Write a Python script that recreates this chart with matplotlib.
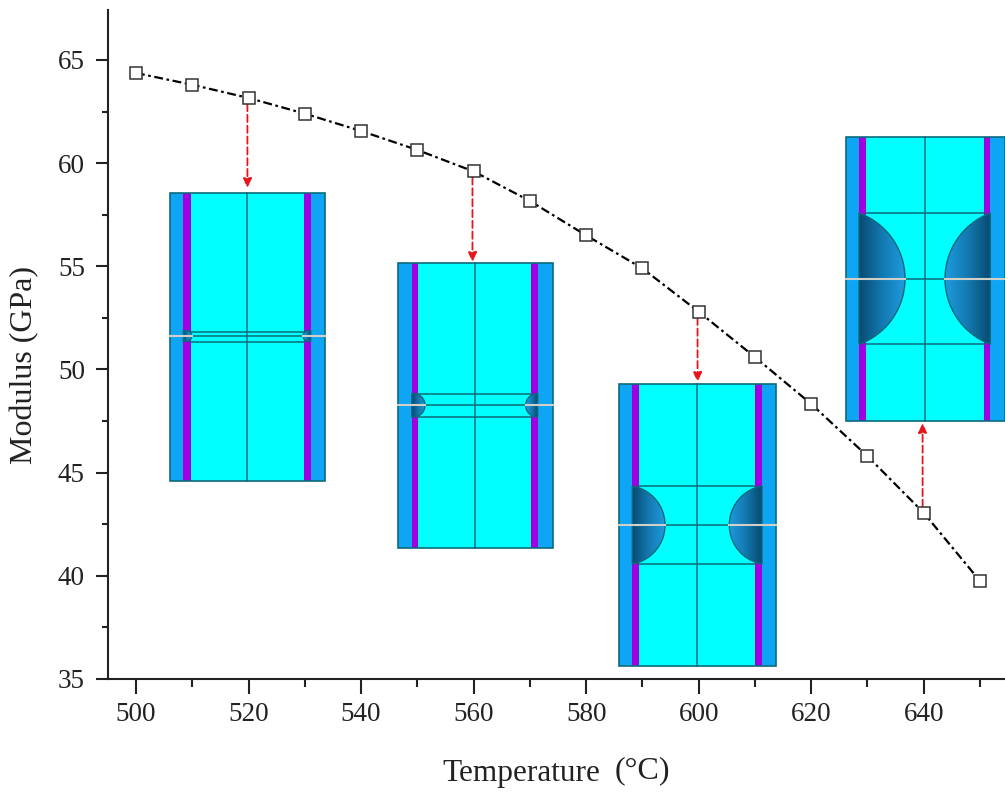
#!/usr/bin/env python3
# Modulus vs temperature with specimen cross-section insets
import numpy as np
import matplotlib
matplotlib.use("Agg")
import matplotlib.pyplot as plt
from matplotlib.patches import Rectangle, PathPatch
from matplotlib.path import Path

plt.rcParams['font.family'] = ['Liberation Serif', 'DejaVu Serif']

W, H = 1005, 794

temperature = [500, 510, 520, 530, 540, 550, 560, 570, 580, 590, 600, 610, 620, 630, 640, 650]
modulus = [64.37, 63.8, 63.16, 62.4, 61.56, 60.64, 59.6, 58.17, 56.5, 54.9, 52.8, 50.6, 48.33, 45.8, 43.05, 39.75]

x_ticks = [500, 520, 540, 560, 580, 600, 620, 640]
y_ticks = [35, 40, 45, 50, 55, 60, 65]

# arrows: from the point at this temperature to the inset edge
arrow_temps = [520, 560, 600, 640]

# colours
TEXT = '#222222'
OUTER = '#0ea5f5'
CORE = '#00ffff'
PURPLE = '#a000e0'
EDGE = '#0b6b7a'
CRACK = '#d0d0c8'

fig = plt.figure(figsize=(W / 100, H / 100), dpi=100)
fig.patch.set_facecolor('white')

# overlay in pixel coords for the insets, sits under the data axes
ax_px = fig.add_axes([0, 0, 1, 1], zorder=1)
ax_px.set_xlim(0, W)
ax_px.set_ylim(H, 0)
ax_px.axis('off')

# plot box in pixels
AX_L, AX_R, AX_T, AX_B = 108, 1005, 10, 679
ax = fig.add_axes([AX_L / W, 1 - AX_B / H, (AX_R - AX_L) / W, (AX_B - AX_T) / H], zorder=2)
ax.patch.set_alpha(0)

px_per_x = (980 - 136) / 150
px_per_y = (679 - 60) / 30
ax.set_xlim(500 - (136 - AX_L) / px_per_x, 500 + (AX_R - 136) / px_per_x)
ax.set_ylim(35, 35 + (AX_B - AX_T) / px_per_y)


def draw_void(x_wall, reach, y_mid, h, flip):
    # circular segment against the wall with a dark-to-light gradient
    d = abs(reach - x_wall)
    r = (h ** 2 + d ** 2) / (2 * d)
    sign = -1 if flip else 1
    cx = reach - sign * r
    a0 = np.arcsin(h / r)
    ang = np.linspace(-a0, a0, 60)
    xs = cx + sign * r * np.cos(ang)
    ys = y_mid + r * np.sin(ang)
    verts = [(x_wall, y_mid - h)] + list(zip(xs, ys)) + [(x_wall, y_mid + h), (x_wall, y_mid - h)]
    codes = [Path.MOVETO] + [Path.LINETO] * (len(verts) - 2) + [Path.CLOSEPOLY]
    path = Path(verts, codes)
    grad = np.linspace(0, 1, 64).reshape(1, -1)
    cmap = matplotlib.colors.LinearSegmentedColormap.from_list('void', ['#084a72', '#1379b0', '#1e9ade'])
    x0, x1 = min(x_wall, reach), max(x_wall, reach)
    im = ax_px.imshow(grad if not flip else grad[:, ::-1], extent=(x0, x1, y_mid + h, y_mid - h),
                      cmap=cmap, aspect='auto', zorder=3)
    patch = PathPatch(path, facecolor='none', edgecolor=EDGE, lw=1.0, zorder=4)
    ax_px.add_patch(patch)
    im.set_clip_path(patch)


def draw_specimen(left, right, top, bottom, p1, p2, p3, p4, centre, crack, line1, line2, reach1, reach2):
    ax_px.add_patch(Rectangle((left, top), right - left, bottom - top, fc=OUTER, ec='none', zorder=1))
    ax_px.add_patch(Rectangle((p2, top), p3 - p2, bottom - top, fc=CORE, ec='none', zorder=1))
    ax_px.add_patch(Rectangle((p1, top), p2 - p1, bottom - top, fc=PURPLE, ec='none', zorder=2))
    ax_px.add_patch(Rectangle((p3, top), p4 - p3, bottom - top, fc=PURPLE, ec='none', zorder=2))
    h = (line2 - line1) / 2
    draw_void(p1, reach1, crack, h, False)
    draw_void(p4, reach2, crack, h, True)
    ax_px.add_patch(Rectangle((left, top), right - left, bottom - top, fc='none', ec=EDGE, lw=1.2, zorder=5))
    ax_px.plot([centre, centre], [top, bottom], color=EDGE, lw=1.1, zorder=5)
    ax_px.plot([p2, p3], [line1, line1], color=EDGE, lw=1.1, zorder=5)
    ax_px.plot([p2, p3], [line2, line2], color=EDGE, lw=1.1, zorder=5)
    ax_px.plot([reach1, reach2], [crack, crack], color=EDGE, lw=1.1, zorder=5)
    ax_px.plot([left, reach1], [crack, crack], color=CRACK, lw=1.5, zorder=6)
    ax_px.plot([reach2, right], [crack, crack], color=CRACK, lw=1.5, zorder=6)


draw_specimen(170, 325, 193, 481, 183.3, 190.7, 304, 310.7, 247, 336, 331.5, 342, 191.7, 303)
draw_specimen(398.3, 552.7, 262.7, 548, 411.7, 418.3, 531, 537.7, 475, 405.3, 393.7, 417.3, 425, 525.7)
draw_specimen(619, 776, 384, 665.7, 632.3, 639, 755.3, 762, 697.3, 525, 485.7, 563.7, 665, 729.3)
draw_specimen(845.7, 1005, 136.7, 420.7, 859, 865.7, 983.7, 990.3, 924.7, 278.7, 213, 344.3, 905, 945)

# main curve
ax.plot(temperature, modulus, color='black', lw=1.6, linestyle=(0, (4, 1.6, 1.2, 1.6)),
        marker='s', ms=8, mfc='white', mec='#333333', mew=1.1, zorder=5)


def px_to_y(py):
    return 35 + (AX_B - py) / px_per_y


# red dashed arrows, start just off the marker, tip at the inset edge
arrow_tips = [188, 262, 382, 423]
for t, tip in zip(arrow_temps, arrow_tips):
    m = modulus[temperature.index(t)]
    going_down = tip > AX_B - (m - 35) * px_per_y
    start = m - 6 / px_per_y if going_down else m + 6 / px_per_y
    ax.annotate('', xy=(t - 0.2, px_to_y(tip)), xytext=(t - 0.2, start),
                arrowprops=dict(arrowstyle='-|>,head_length=0.55,head_width=0.25', color='#e8141c', lw=1.3,
                                linestyle=(0, (4, 2)), shrinkA=0, shrinkB=0), zorder=4)

# axes
ax.spines['top'].set_visible(False)
ax.spines['right'].set_visible(False)
ax.spines['left'].set_linewidth(1.5)
ax.spines['bottom'].set_linewidth(1.5)
ax.spines['left'].set_color('#222222')
ax.spines['bottom'].set_color('#222222')
ax.set_xticks(x_ticks)
ax.set_yticks(y_ticks)
ax.set_xticks(np.arange(510, 660, 20), minor=True)
ax.set_yticks(np.arange(37.5, 67.5, 5), minor=True)
ax.tick_params(axis='x', which='major', length=10.8, width=1.5, color='#222222', labelsize=19.5, labelcolor=TEXT, pad=6)
ax.tick_params(axis='x', which='minor', length=5.8, width=1.5, color='#222222')
ax.tick_params(axis='y', which='major', length=8.6, width=1.5, color='#222222', labelsize=19.5, labelcolor=TEXT, pad=8)
ax.tick_params(axis='y', which='minor', length=4.5, width=1.5, color='#222222')

fig.text(442 / W, 1 - 773 / H, 'Temperature', fontsize=22.5, color=TEXT, ha='left', va='center')
fig.text(670 / W, 1 - 771 / H, '(°C)', fontsize=23, color=TEXT, ha='right', va='center')
fig.text(25 / W, 1 - 365 / H, 'Modulus (GPa)', fontsize=23, color=TEXT, rotation=90, ha='center', va='center')

fig.savefig('out.png', dpi=100)
